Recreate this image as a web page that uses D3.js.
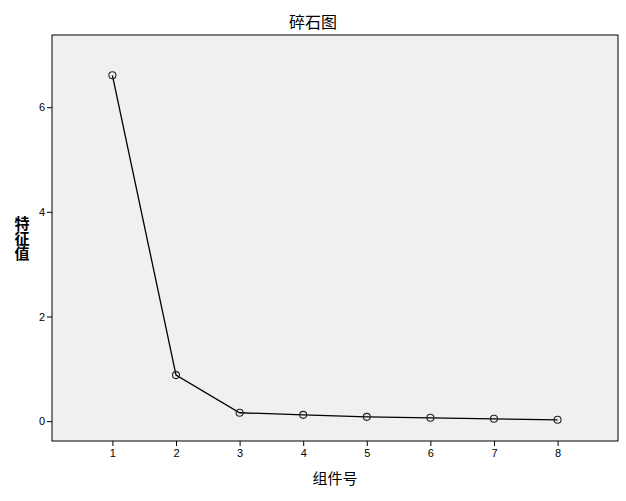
<!DOCTYPE html>
<html>
<head>
<meta charset="utf-8">
<script src="https://cdn.jsdelivr.net/npm/d3@7"></script>
<style>
  body { margin: 0; background: #fff; }
  .tick text { font-family: "Liberation Sans", Arial, sans-serif; font-size: 11px; fill: #000; }
  .cjk { font-family: "Noto Sans CJK SC", sans-serif; fill: #000; }
</style>
</head>
<body>
<div id="chart"></div>
<script>
// scree plot data
let components = [1, 2, 3, 4, 5, 6, 7, 8];
let eigenvalues = [6.61, 0.88, 0.16, 0.12, 0.082, 0.063, 0.044, 0.025];
let yTicks = [0, 2, 4, 6];

let width = 626;
let height = 501;

let plotLeft = 52;
let plotRight = 618;
let plotTop = 35;
let plotBottom = 441;

let svg = d3.select("#chart")
            .append("svg")
            .attr("width", width)
            .attr("height", height)

let xScale = d3.scaleLinear()
            .domain([0.05, 8.95])
            .range([plotLeft, plotRight])

let yScale = d3.scaleLinear()
            .domain([-0.38, 7.38])
            .range([plotBottom, plotTop])

svg.append("rect")
    .attr("x", plotLeft)
    .attr("y", plotTop)
    .attr("width", plotRight - plotLeft)
    .attr("height", plotBottom - plotTop)
    .attr("fill", "#f0f0f0")
    .attr("stroke", "#000")
    .attr("stroke-width", 1)

let xAxis = d3.axisBottom(xScale).tickValues(components).tickSize(5).tickPadding(3).tickFormat(d3.format("d"))
let yAxis = d3.axisLeft(yScale).tickValues(yTicks).tickSize(5).tickPadding(2).tickFormat(d3.format("d"))

svg.append("g").call(xAxis).attr("class", "xAxis")
    .attr("transform", `translate(0, ${plotBottom})`)
    .call(g => g.select(".domain").remove())

svg.append("g").call(yAxis).attr("class", "yAxis")
    .attr("transform", `translate(${plotLeft}, 0)`)
    .call(g => g.select(".domain").remove())

let line = d3.line()
    .x(function(d, i){ return xScale(components[i]) })
    .y(function(d){ return yScale(d) })

svg.append("path")
    .datum(eigenvalues)
    .attr("d", line)
    .attr("fill", "none")
    .attr("stroke", "#000")
    .attr("stroke-width", 1.3)

svg.selectAll("circle.pt").data(eigenvalues).enter()
    .append("circle")
    .attr("class", "pt")
    .attr("cx", function(d, i){ return xScale(components[i]) })
    .attr("cy", function(d){ return yScale(d) })
    .attr("r", 3.5)
    .attr("fill", "none")
    .attr("stroke", "#222")
    .attr("stroke-width", 1.1)

// title and axis labels
svg.append("text")
    .attr("class", "cjk")
    .attr("x", 313)
    .attr("y", 28)
    .attr("text-anchor", "middle")
    .attr("font-size", 16)
    .text("碎石图")

svg.append("text")
    .attr("class", "cjk")
    .attr("x", 335)
    .attr("y", 484)
    .attr("text-anchor", "middle")
    .attr("font-size", 15)
    .text("组件号")

// vertical y label, one text element
svg.append("text")
    .attr("class", "cjk")
    .attr("x", 22)
    .attr("y", 238)
    .attr("text-anchor", "middle")
    .attr("font-size", 15)
    .attr("font-weight", "bold")
    .style("writing-mode", "vertical-rl")
    .style("text-orientation", "upright")
    .text("特征值")
</script>
</body>
</html>
